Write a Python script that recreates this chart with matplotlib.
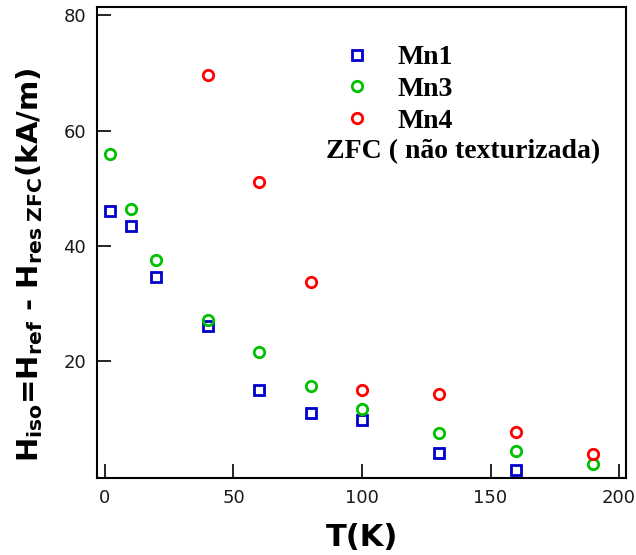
import matplotlib
matplotlib.use('Agg')
import matplotlib.pyplot as plt
from matplotlib.lines import Line2D

# temperatures (K)
t_mn1 = [2, 10, 20, 40, 60, 80, 100, 130, 160]
h_mn1 = [46.1, 43.4, 34.7, 26.1, 15.1, 11.0, 9.8, 4.2, 1.1]

t_mn3 = [2, 10, 20, 40, 60, 80, 100, 130, 160, 190]
h_mn3 = [55.9, 46.4, 37.5, 27.1, 21.7, 15.8, 11.7, 7.6, 4.4, 2.3]

t_mn4 = [40, 60, 80, 100, 130, 160, 190]
h_mn4 = [69.7, 51.1, 33.7, 15.1, 14.3, 7.7, 3.9]

labels = ['Mn1', 'Mn3', 'Mn4']
xticks = [0, 50, 100, 150, 200]
yticks = [20, 40, 60, 80]

plt.rcParams['mathtext.fontset'] = 'dejavusans'

fig = plt.figure(figsize=(6.36, 5.55), dpi=100)
ax = fig.add_axes([97/636, 1 - 478/555, 529/636, 471/555])

mk = dict(linestyle='none', markerfacecolor='none', markeredgewidth=2.0)
ax.plot(t_mn1, h_mn1, marker='s', markersize=7.3, markeredgecolor='#0000cc', **mk)
ax.plot(t_mn3, h_mn3, marker='o', markersize=7.5, markeredgecolor='#00c000', **mk)
ax.plot(t_mn4, h_mn4, marker='o', markersize=7.5, markeredgecolor='#ff0000', **mk)

ax.set_xlim(-3.1, 202.7)
ax.set_ylim(-0.2, 81.4)
ax.set_xticks(xticks)
ax.set_yticks(yticks)
ax.tick_params(direction='in', length=10, width=1.2, labelsize=13,
               labelcolor='#1a1a1a', pad=8)
for s in ax.spines.values():
    s.set_linewidth(1.5)

handles = [
    Line2D([], [], marker='s', markersize=7.3, markeredgecolor='#0000cc', **mk),
    Line2D([], [], marker='o', markersize=7.5, markeredgecolor='#00c000', **mk),
    Line2D([], [], marker='o', markersize=7.5, markeredgecolor='#ff0000', **mk),
]
leg = ax.legend(handles, labels, loc='upper left', frameon=False,
                bbox_to_anchor=(343/636, 1 - 45/555), bbox_transform=fig.transFigure,
                prop={'family': 'Liberation Serif', 'weight': 'bold', 'size': 20},
                handlelength=1.0, handletextpad=0.95, labelspacing=0.22,
                borderpad=0, borderaxespad=0)

fig.text(326/636, 1 - 152/555, 'ZFC ( não texturizada)', family='Liberation Serif',
         weight='bold', size=20, ha='left', va='center')

fig.text(30/636, 1 - 265/555,
         r'H$_{\mathbf{iso}}$=H$_{\mathbf{ref}}$ - H$_{\mathbf{res\ ZFC}}$(kA/m)',
         rotation=90, ha='center', va='center', size=21, weight='bold')
fig.text(362/636, 1 - 538/555, 'T(K)', weight='bold', size=22,
         ha='center', va='center')

fig.savefig('out.png', dpi=100)
